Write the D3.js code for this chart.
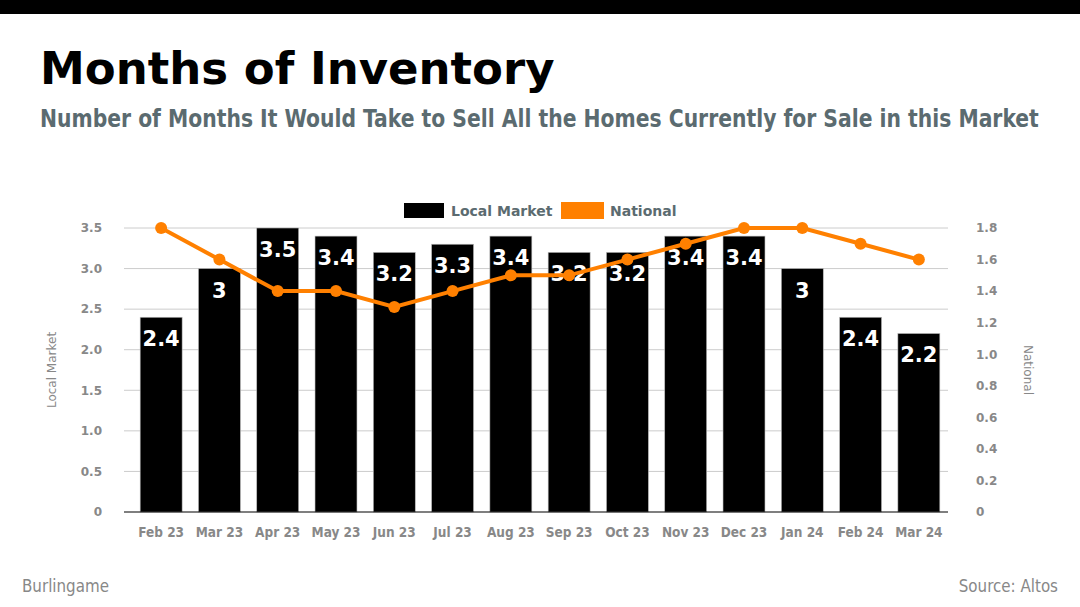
<!DOCTYPE html>
<html><head><meta charset="utf-8">
<script src="https://cdn.jsdelivr.net/npm/d3@7"></script>
<style>body{margin:0;background:#fff}svg{display:block}</style>
</head><body>
<svg id="c" width="1080" height="607"></svg>
<script>
const months = ["Feb 23","Mar 23","Apr 23","May 23","Jun 23","Jul 23","Aug 23","Sep 23","Oct 23","Nov 23","Dec 23","Jan 24","Feb 24","Mar 24"];
const localMarket = [2.4,3,3.5,3.4,3.2,3.3,3.4,3.2,3.2,3.4,3.4,3,2.4,2.2];
const national = [1.8,1.6,1.4,1.4,1.3,1.4,1.5,1.5,1.6,1.7,1.8,1.8,1.7,1.6];
const leftTicks = [0,0.5,1.0,1.5,2.0,2.5,3.0,3.5];
const rightTicks = [0,0.2,0.4,0.6,0.8,1.0,1.2,1.4,1.6,1.8];

const svg = d3.select("#c");
const cond = "'DejaVu Sans Condensed', 'DejaVu Sans', sans-serif";
const dv = "'DejaVu Sans', sans-serif";

svg.append("rect").attr("x",0).attr("y",0).attr("width",1080).attr("height",14).attr("fill","#000");
svg.append("text").attr("x",40).attr("y",84).attr("font-family",dv).attr("font-weight","bold")
  .attr("font-size",45).attr("fill","#000").text("Months of Inventory");
const subG = svg.append("g");
const sub = subG.append("text").attr("x",0).attr("y",0).attr("font-family",cond).attr("font-weight","bold")
  .attr("font-size",25).attr("fill","#5b6b70")
  .text("Number of Months It Would Take to Sell All the Homes Currently for Sale in this Market");
const natW = sub.node().getComputedTextLength();
subG.attr("transform",`translate(40,127) scale(${Math.min(1, 999/natW)},1)`);

const gx0 = 124, gx1 = 948, yTop = 228, yBot = 512;
const x = d3.scaleBand().domain(months).range([132, 948]).paddingInner(0.28).paddingOuter(0.14);
const yL = d3.scaleLinear().domain([0,3.5]).range([yBot,yTop]);
const yR = d3.scaleLinear().domain([0,1.8]).range([yBot,yTop]);

// gridlines
svg.append("g").selectAll("line").data(leftTicks.filter(d=>d>0)).join("line")
  .attr("x1",gx0).attr("x2",gx1).attr("y1",d=>yL(d)).attr("y2",d=>yL(d))
  .attr("stroke","#cccccc").attr("stroke-width",1);

// left axis
const la = svg.append("g").attr("transform",`translate(${102},0)`)
  .call(d3.axisLeft(yL).tickValues(leftTicks).tickSize(0).tickPadding(0).tickFormat(d=>d===0?"0":d3.format(".1f")(d)));
la.select(".domain").remove();
la.selectAll("text").attr("font-family",dv).attr("font-weight","bold").attr("font-size",12).attr("fill","#888");

// right axis
const ra = svg.append("g").attr("transform",`translate(${976},0)`)
  .call(d3.axisRight(yR).tickValues(rightTicks).tickSize(0).tickPadding(0).tickFormat(d=>d===0?"0":d3.format(".1f")(d)));
ra.select(".domain").remove();
ra.selectAll("text").attr("font-family",dv).attr("font-weight","bold").attr("font-size",12).attr("fill","#888");

// bars
svg.append("g").selectAll("rect").data(localMarket).join("rect")
  .attr("x",(d,i)=>x(months[i])).attr("width",x.bandwidth())
  .attr("y",d=>yL(d)).attr("height",d=>yBot-yL(d)).attr("fill","#000")
  .attr("stroke","#bbb").attr("stroke-width",0.6);

// baseline
svg.append("line").attr("x1",gx0).attr("x2",gx1).attr("y1",yBot).attr("y2",yBot).attr("stroke","#000").attr("stroke-width",1.2);

// bar labels
svg.append("g").selectAll("text").data(localMarket).join("text")
  .attr("x",(d,i)=>x(months[i])+x.bandwidth()/2).attr("y",d=>yL(d)+29)
  .attr("text-anchor","middle").attr("font-family",dv).attr("font-weight","bold").attr("font-size",21)
  .attr("fill","#fff").text(d=>d);

// line
const line = d3.line().x((d,i)=>x(months[i])+x.bandwidth()/2).y(d=>yR(d));
svg.append("path").datum(national).attr("d",line).attr("fill","none").attr("stroke","#ff8000").attr("stroke-width",4);
svg.append("g").selectAll("circle").data(national).join("circle")
  .attr("cx",(d,i)=>x(months[i])+x.bandwidth()/2).attr("cy",d=>yR(d)).attr("r",6).attr("fill","#ff8000");

// x axis labels
const xa = svg.append("g").attr("transform",`translate(0,${527})`).call(d3.axisBottom(x).tickSize(0).tickPadding(0));
xa.select(".domain").remove();
xa.selectAll("text").attr("font-family",cond).attr("font-weight","bold").attr("font-size",13.5).attr("fill","#888").attr("dy","0.71em");

// axis titles
svg.append("text").attr("transform","translate(56,370) rotate(-90)").attr("text-anchor","middle")
  .attr("font-family",dv).attr("font-size",12).attr("fill","#888").text("Local Market");
svg.append("text").attr("transform","translate(1024,370) rotate(90)").attr("text-anchor","middle")
  .attr("font-family",dv).attr("font-size",12).attr("fill","#888").text("National");

// legend
svg.append("rect").attr("x",404).attr("y",203).attr("width",40).attr("height",15).attr("fill","#000");
svg.append("text").attr("x",451).attr("y",215.5).attr("font-family",dv).attr("font-weight","bold").attr("font-size",14).attr("fill","#5b6b70").text("Local Market");
svg.append("rect").attr("x",561).attr("y",202).attr("width",43).attr("height",17).attr("fill","#ff8000");
svg.append("text").attr("x",610).attr("y",215.5).attr("font-family",dv).attr("font-weight","bold").attr("font-size",14).attr("fill","#5b6b70").text("National");

// footer
svg.append("text").attr("x",22).attr("y",592).attr("font-family",cond).attr("font-size",16.8).attr("fill","#888").text("Burlingame");
svg.append("text").attr("x",1058).attr("y",592).attr("text-anchor","end").attr("font-family",cond).attr("font-size",16.8).attr("fill","#888").text("Source: Altos");
</script>
</body></html>
